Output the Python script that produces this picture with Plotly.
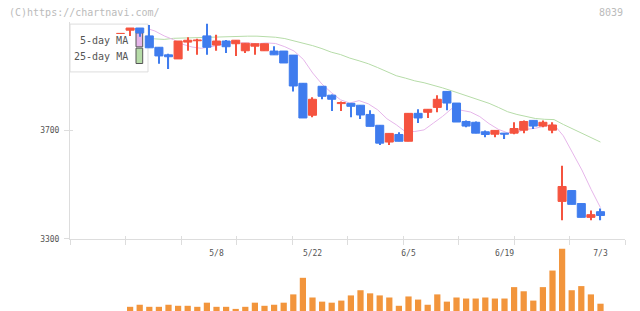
import plotly.graph_objects as go

# ---------------- data ----------------
dates = ["4/19", "4/20", "4/21", "4/24", "4/25", "4/26", "4/27", "4/28", "5/1", "5/2",
         "5/8", "5/9", "5/10", "5/11", "5/12", "5/15", "5/16", "5/17", "5/18", "5/19",
         "5/22", "5/23", "5/24", "5/25", "5/26", "5/29", "5/30", "5/31", "6/1", "6/2",
         "6/5", "6/6", "6/7", "6/8", "6/9", "6/12", "6/13", "6/14", "6/15", "6/16",
         "6/19", "6/20", "6/21", "6/22", "6/23", "6/26", "6/27", "6/28", "6/29", "6/30",
         "7/3"]

opens = [4058, 4070, 4078, 4049, 4007, 3979, 3964, 4026, 4031, 4049,
         4015, 4030, 4020, 3994, 4011, 3994, 3993, 3993, 3978, 3874,
         3756, 3863, 3830, 3799, 3800, 3793, 3759, 3719, 3657, 3685,
         3660, 3763, 3767, 3785, 3844, 3801, 3733, 3730, 3695, 3686,
         3690, 3690, 3701, 3737, 3716, 3701, 3438, 3478, 3430, 3379,
         3400]
highs = [4058, 4078, 4078, 4089, 4007, 3983, 4030, 4044, 4038, 4094,
         4053, 4034, 4033, 4022, 4020, 4020, 4011, 3993, 3978, 3874,
         3822, 3863, 3833, 3807, 3800, 3793, 3774, 3719, 3689, 3693,
         3763, 3778, 3778, 3830, 3844, 3801, 3737, 3733, 3700, 3700,
         3690, 3730, 3737, 3737, 3737, 3730, 3570, 3478, 3430, 3404,
         3412]
lows = [4058, 4049, 4046, 4005, 3946, 3927, 3964, 3994, 3979, 3979,
        3994, 3986, 3975, 3986, 3979, 3994, 3979, 3949, 3844, 3746,
        3749, 3815, 3772, 3772, 3749, 3742, 3715, 3646, 3646, 3660,
        3660, 3727, 3746, 3767, 3774, 3731, 3712, 3690, 3675, 3675,
        3668, 3686, 3690, 3705, 3712, 3690, 3368, 3427, 3379, 3368,
        3368]
closes = [4058, 4078, 4060, 4005, 3975, 3972, 4030, 4033, 4034, 4007,
          4030, 4009, 4033, 4022, 4020, 4020, 3979, 3949, 3864, 3746,
          3815, 3826, 3815, 3803, 3789, 3757, 3715, 3653, 3689, 3660,
          3763, 3746, 3778, 3815, 3801, 3731, 3716, 3690, 3685, 3700,
          3686, 3707, 3733, 3716, 3730, 3720, 3493, 3427, 3379, 3389,
          3386]

ma5 = [4085, 4078, 4067, 4049, 4035, 4018, 4008, 4003, 4009, 4015,
       4027, 4023, 4023, 4020, 4023, 4021, 4009, 3993, 3962, 3912,
       3871, 3840, 3813, 3801, 3810, 3798, 3776, 3743, 3721, 3695,
       3696, 3702, 3727, 3752, 3781, 3774, 3768, 3751, 3725, 3704,
       3691, 3694, 3704, 3708, 3716, 3721, 3680, 3617, 3554, 3482,
       3415]
ma25 = [4039, 4040, 4038, 4036, 4040, 4041, 4043, 4044, 4046, 4047,
        4047, 4048, 4048, 4048, 4046, 4044, 4039, 4031, 4022, 4013,
        4002, 3989, 3980, 3967, 3957, 3946, 3932, 3917, 3902, 3893,
        3883, 3876, 3867, 3857, 3846, 3835, 3822, 3811, 3800, 3785,
        3769, 3759, 3752, 3744, 3741, 3740, 3722, 3706, 3689, 3672,
        3657]

volume = [None, 15000, 21000, 15000, 15000, 21000, 18000, 18000, 15000, 27000,
          15000, 15000, 9000, 15000, 27000, 18000, 21000, 27000, 51000, 99000,
          42000, 30000, 27000, 33000, 48000, 63000, 54000, 48000, 42000, 18000,
          45000, 36000, 21000, 51000, 30000, 42000, 39000, 39000, 42000, 39000,
          39000, 72000, 60000, 33000, 72000, 120000, 183000, 63000, 75000, 51000,
          24000]

label_days = ["5/8", "5/22", "6/5", "6/19", "7/3"]
price_ticks = [3300, 3700]

# ---------------- styling / layout constants ----------------
W, H = 640, 311          # reference frame
FIG_H = 317              # figure height actually requested
UP, DOWN = "#f5533f", "#3f7cee"
VOL_COLOR = "#f2953c"
MA5_COLOR = "#e6b6ea"
MA25_COLOR = "#b6dca8"
AXIS = "#dddddd"
TEXT = "#555555"
MONO = "DejaVu Sans Mono, monospace"

plot_l, plot_r = 70, 625
price_top, price_bot = 22, 238
price_range = [3300, 4100]
vol_range = [0, 212000]

# index -> pixel mapping of the candle axis and of the moving-average axis
c0, cstep = 120.5, 9.6
m0, mstep = 136.3, 9.283
cand_range = [(plot_l - c0) / cstep, (plot_r - c0) / cstep]
ma_range = [(plot_l - m0) / mstep, (plot_r - m0) / mstep]

# legend frame (pixel coordinates of the plot area)
legend_box = (70, 148, 24, 71.7)
swatch_x = (136, 142.7)
swatch_5 = (32.7, 46.7)
swatch_25 = (48, 63.3)


def fx(p):
    return p / W


def fy(p):
    return 1 - p / H


def rect_trace(x0, x1, y0, y1, fill, edge):
    return go.Scatter(x=[x0, x1, x1, x0, x0], y=[y0, y0, y1, y1, y0],
                      mode="lines", fill="toself", fillcolor=fill,
                      line=dict(color=edge, width=1), xaxis="x6", yaxis="y4",
                      hoverinfo="skip")


idx = list(range(len(dates)))
colors = [UP if c >= o else DOWN for o, c in zip(opens, closes)]
body_base = [min(o, c) for o, c in zip(opens, closes)]
body_h = [abs(c - o) for o, c in zip(opens, closes)]
wick_h = [h - l for h, l in zip(highs, lows)]

fig = go.Figure()

# moving averages (drawn first: behind legend and candles)
fig.add_trace(go.Scatter(x=idx, y=ma25, mode="lines",
                         line=dict(color=MA25_COLOR, width=1),
                         xaxis="x4", yaxis="y", hoverinfo="skip"))
fig.add_trace(go.Scatter(x=idx, y=ma5, mode="lines",
                         line=dict(color=MA5_COLOR, width=1),
                         xaxis="x4", yaxis="y", hoverinfo="skip"))

# legend frame and swatches
fig.add_trace(rect_trace(legend_box[0], legend_box[1], legend_box[2], legend_box[3],
                         "white", AXIS))
fig.add_trace(rect_trace(swatch_x[0], swatch_x[1], swatch_5[0], swatch_5[1],
                         MA5_COLOR, TEXT))
fig.add_trace(rect_trace(swatch_x[0], swatch_x[1], swatch_25[0], swatch_25[1],
                         MA25_COLOR, TEXT))

# candles: wicks then bodies
fig.add_trace(go.Bar(x=idx, y=wick_h, base=lows, width=0.12,
                     marker=dict(color=colors, line=dict(width=0)),
                     xaxis="x7", yaxis="y", hoverinfo="skip"))
fig.add_trace(go.Bar(x=idx, y=body_h, base=body_base, width=0.84,
                     marker=dict(color=colors, line=dict(color=colors, width=1)),
                     xaxis="x7", yaxis="y", hoverinfo="skip"))

# volume
fig.add_trace(go.Bar(x=idx, y=volume, width=0.65,
                     marker=dict(color=VOL_COLOR, line=dict(width=0)),
                     xaxis="x5", yaxis="y2", hoverinfo="skip"))

# dummy traces so that the decorative overlay axes are drawn
fig.add_trace(go.Scatter(x=[None], y=[None], xaxis="x", yaxis="y", hoverinfo="skip"))
fig.add_trace(go.Scatter(x=[None], y=[None], xaxis="x2", yaxis="y3", hoverinfo="skip"))
fig.add_trace(go.Scatter(x=[None], y=[None], xaxis="x3", yaxis="y", hoverinfo="skip"))

dom_x = [fx(plot_l), fx(plot_r)]
grid_ticks = [cand_range[0] + k * (cand_range[1] - cand_range[0]) / 10 for k in range(11)]
label_pos = [dates.index(d) for d in label_days]

common = dict(showgrid=False, zeroline=False, fixedrange=True)

fig.update_layout(
    width=W, height=FIG_H, autosize=False,
    margin=dict(l=0, r=0, t=0, b=0, pad=0),
    paper_bgcolor="white", plot_bgcolor="rgba(0,0,0,0)",
    showlegend=False, barmode="overlay", hovermode=False,
    xaxis=dict(domain=dom_x, range=cand_range, anchor="y", showline=True,
               linecolor=AXIS, linewidth=1, ticks="outside", ticklen=5,
               tickcolor=AXIS, tickwidth=1, tickmode="array", tickvals=grid_ticks,
               showticklabels=False, **common),
    xaxis2=dict(overlaying="x", range=cand_range, anchor="y", showline=False,
                ticks="inside", ticklen=3, tickcolor=AXIS, tickwidth=1,
                tickmode="array", tickvals=grid_ticks, showticklabels=False,
                **common),
    xaxis3=dict(overlaying="x", range=cand_range, anchor="y", showline=False,
                ticks="outside", ticklen=7, tickcolor="rgba(0,0,0,0)",
                tickmode="array", tickvals=label_pos, ticktext=label_days,
                tickfont=dict(family=MONO, size=8, color=TEXT), **common),
    xaxis4=dict(overlaying="x", range=ma_range, anchor="y", visible=False, **common),
    xaxis5=dict(domain=dom_x, range=cand_range, anchor="y2", visible=False, **common),
    xaxis6=dict(overlaying="x", range=[plot_l, plot_r], anchor="y4", visible=False,
                **common),
    xaxis7=dict(overlaying="x", range=cand_range, anchor="y", visible=False, **common),
    yaxis=dict(domain=[fy(price_bot), fy(price_top)], range=price_range,
               anchor="x", showline=True, linecolor=AXIS, linewidth=1,
               ticks="outside", ticklen=5, tickcolor=AXIS, tickwidth=1,
               tickmode="array", tickvals=price_ticks, ticklabelstandoff=3,
               tickfont=dict(family=MONO, size=8, color=TEXT), **common),
    yaxis3=dict(overlaying="y", range=price_range, anchor="x", showline=False,
                ticks="inside", ticklen=3, tickcolor=AXIS, tickwidth=1,
                tickmode="array", tickvals=price_ticks, showticklabels=False,
                **common),
    yaxis4=dict(overlaying="y", range=[price_bot, price_top], anchor="x6",
                visible=False, **common),
    yaxis2=dict(domain=[0, fy(price_bot)], range=vol_range, anchor="x5",
                visible=False, **common),
)

legend_font = dict(family=MONO, size=10, color=TEXT)
fig.add_annotation(text="5-day MA", xref="paper", yref="paper", x=fx(130), y=fy(40.7),
                   xanchor="right", yanchor="middle", showarrow=False, font=legend_font)
fig.add_annotation(text="25-day MA", xref="paper", yref="paper", x=fx(130), y=fy(56.7),
                   xanchor="right", yanchor="middle", showarrow=False, font=legend_font)

head_font = dict(family=MONO, size=10, color="#bbbbbb")
fig.add_annotation(text="(C)https://chartnavi.com/", xref="paper", yref="paper",
                   x=fx(7), y=fy(12), xanchor="left", yanchor="middle",
                   showarrow=False, font=head_font)
fig.add_annotation(text="8039", xref="paper", yref="paper",
                   x=fx(625), y=fy(12), xanchor="right", yanchor="middle",
                   showarrow=False, font=head_font)

page_fix = (
    "document.documentElement.style.margin='0';"
    "document.body.style.margin='0';"
)

fig.write_html("out.html", post_script=page_fix)
